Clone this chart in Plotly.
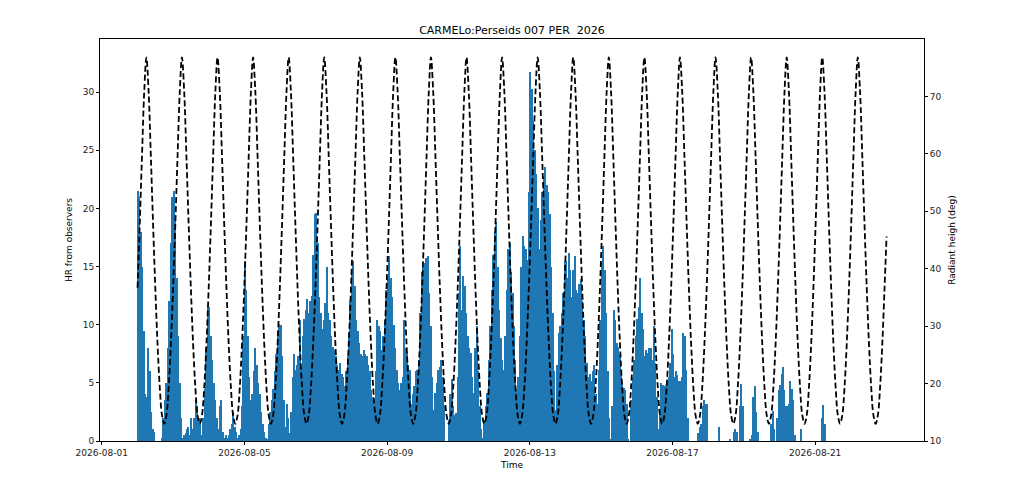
import pandas as pd
import plotly.graph_objects as go

title = "CARMELo:Perseids 007 PER\u00a0 2026"

# hourly rate, 1-hour bins, one row per day from 2026-08-02
first_day = "2026-08-02"
bin_hours = 1
hr_rows = [
    [21.5, 21.0, 18.0, 15.0, 9.5, 4.0, 3.8, 8.0, 6.0, 2.5, 1.0, 0.8,
     0.0, 0.0, 0.0, 0.0, 0.3, 2.0, 3.5, 5.0, 8.0, 12.0, 17.0, 21.0],      # 08-02
    [21.5, 19.0, 14.0, 9.0, 5.0, 2.0, 0.3, 0.5, 0.7, 1.0, 1.2, 0.5,
     2.0, 1.0, 2.0, 3.5, 3.0, 2.0, 1.5, 0.5, 2.0, 4.5, 8.0, 11.5],        # 08-03
    [11.5, 9.0, 7.0, 5.0, 3.5, 2.0, 1.0, 3.0, 3.5, 0.8, 0.3, 0.5,
     0.3, 0.5, 1.0, 1.5, 2.5, 1.2, 0.8, 0.3, 0.5, 1.0, 3.0, 9.0],         # 08-04
    [15.5, 13.0, 9.0, 5.5, 3.5, 4.0, 6.0, 8.0, 6.5, 5.0, 4.0, 2.5,
     1.5, 0.8, 0.3, 0.2, 1.5, 2.5, 3.5, 4.5, 6.0, 7.5, 9.5, 10.1],        # 08-05
    [10.0, 7.3, 3.5, 1.2, 3.2, 2.0, 0.7, 2.5, 5.5, 7.5, 6.1, 6.5,
     7.3, 10.4, 6.4, 9.0, 10.5, 11.3, 12.2, 11.0, 12.0, 12.5, 16.0, 19.5], # 08-06
    [19.6, 17.0, 12.4, 11.0, 9.6, 10.4, 11.9, 15.0, 11.0, 10.4, 9.0, 8.1,
     7.8, 7.3, 6.5, 6.1, 6.7, 5.8, 5.5, 4.7, 6.0, 7.3, 9.3, 12.0],        # 08-07
    [14.5, 15.5, 13.3, 10.4, 9.5, 8.4, 7.5, 7.3, 7.8, 7.5, 7.3, 6.5,
     6.0, 4.4, 3.8, 3.2, 6.0, 10.4, 9.9, 9.5, 7.8, 9.0, 10.4, 13.0],      # 08-08
    [14.0, 15.9, 14.0, 12.4, 10.0, 8.0, 6.1, 5.0, 4.4, 5.0, 5.5, 10.4,
     8.0, 7.6, 6.5, 6.1, 3.2, 4.0, 4.7, 6.0, 6.1, 7.0, 11.0, 14.5],       # 08-09
    [15.0, 15.3, 15.7, 15.9, 12.7, 9.9, 5.5, 2.7, 4.1, 5.0, 6.1, 6.4,
     7.0, 5.5, 3.0, 0.0, 0.0, 1.8, 4.0, 5.3, 3.0, 2.2, 2.4, 5.5],         # 08-10
    [12.7, 16.8, 11.3, 14.2, 13.3, 11.0, 9.0, 8.0, 7.6, 5.5, 4.1, 8.0,
     9.9, 6.0, 3.0, 1.0, 0.3, 1.8, 3.0, 4.1, 7.0, 9.9, 13.0, 16.0],       # 08-11
    [18.0, 18.8, 15.0, 11.3, 8.9, 7.0, 6.1, 9.0, 13.0, 16.5, 17.0, 14.5,
     12.7, 9.9, 7.0, 4.5, 5.5, 9.0, 15.0, 17.6, 16.8, 16.5, 15.6, 21.4],  # 08-12
    [31.7, 30.3, 27.5, 25.0, 23.0, 20.0, 16.5, 19.0, 21.4, 22.8, 23.6, 22.0,
     21.4, 19.5, 15.0, 11.0, 6.0, 2.7, 6.5, 9.3, 9.9, 11.0, 12.7, 15.5],  # 08-13
    [15.5, 14.0, 16.2, 14.7, 12.4, 14.7, 15.9, 13.0, 12.7, 13.5, 13.9, 12.0,
     10.4, 9.0, 6.7, 5.5, 5.8, 5.2, 6.0, 6.5, 4.0, 3.2, 6.1, 10.4],       # 08-14
    [15.3, 16.8, 14.7, 11.0, 6.0, 2.0, 0.2, 3.0, 11.3, 10.4, 8.4, 8.1,
     7.5, 6.0, 5.0, 4.6, 4.4, 3.2, 0.2, 0.0, 3.5, 5.5, 7.0, 9.0],         # 08-15
    [10.5, 11.5, 14.0, 11.0, 9.6, 7.3, 7.8, 7.6, 8.0, 8.0, 7.0, 9.9,
     6.7, 3.8, 1.0, 2.5, 5.0, 4.8, 4.7, 4.8, 5.0, 5.5, 6.7, 9.6],         # 08-16
    [7.5, 5.5, 6.0, 5.7, 5.2, 5.2, 5.5, 9.3, 9.0, 6.1, 2.0, 0.0,
     0.0, 0.0, 0.0, 0.0, 0.0, 0.7, 1.2, 1.5, 3.0, 3.5, 3.2, 3.2],         # 08-17
    [0.0, 0.0, 0.0, 0.0, 0.0, 0.0, 0.0, 1.2, 0.0, 0.0, 0.0, 0.0,
     0.0, 0.0, 0.2, 0.0, 0.0, 0.8, 1.0, 0.8, 0.0, 3.0, 4.9, 3.0],         # 08-18
    [0.0, 0.0, 0.0, 0.0, 0.1, 0.5, 3.8, 4.7, 2.5, 0.8, 0.0, 0.0,
     0.0, 0.0, 0.0, 0.0, 0.0, 0.0, 1.5, 2.6, 1.0, 0.0, 2.0, 4.4],         # 08-19
    [4.8, 5.8, 6.4, 4.4, 3.0, 3.0, 3.2, 5.2, 4.5, 3.5, 0.5, 0.0,
     0.0, 0.0, 1.0, 0.0, 0.0, 0.0, 0.0, 0.0, 0.0, 0.0, 0.0, 0.0],         # 08-20
    [0.0, 0.0, 0.0, 0.0, 2.0, 3.1, 1.5, 0.0, 0.0, 0.0, 0.0, 0.0,
     0.0, 0.0, 0.0, 0.0, 0.0, 0.0, 0.0, 0.0, 0.0, 0.0, 0.0, 0.0],         # 08-21
]

# radiant culminations (upper) and the altitude seen every 1.5 h after each one
culm_times = [
    "2026-08-01 06:04", "2026-08-02 06:00", "2026-08-03 05:56", "2026-08-04 05:52",
    "2026-08-05 05:48", "2026-08-06 05:44", "2026-08-07 05:40", "2026-08-08 05:36",
    "2026-08-09 05:32", "2026-08-10 05:28", "2026-08-11 05:24", "2026-08-12 05:20",
    "2026-08-13 05:16", "2026-08-14 05:12", "2026-08-15 05:08", "2026-08-16 05:04",
    "2026-08-17 05:00", "2026-08-18 04:56", "2026-08-19 04:52", "2026-08-20 04:48",
    "2026-08-21 04:44", "2026-08-22 04:40",
]
alt_profile = [76.8, 70.9, 59.7, 47.9, 36.7, 27.0, 19.4, 14.5,
               13.0, 14.5, 19.4, 27.0, 36.7, 47.9, 59.7, 70.9]
curve_start = "2026-08-02 00:00"
curve_end = "2026-08-23 00:00"
end_alt = 45.6

date_ticks = ["2026-08-01", "2026-08-05", "2026-08-09", "2026-08-13", "2026-08-17", "2026-08-21"]

# bars
t0 = pd.Timestamp(first_day)
bar_x, bar_y = [], []
for d, row in enumerate(hr_rows):
    for i, v in enumerate(row):
        bar_x.append(t0 + pd.Timedelta(days=d, hours=i * bin_hours + bin_hours / 2))
        bar_y.append(v)

# radiant height curve
start, end = pd.Timestamp(curve_start), pd.Timestamp(curve_end)
rad_t, rad_alt = [], []
for c in pd.to_datetime(culm_times):
    for j, a in enumerate(alt_profile):
        t = c + pd.Timedelta(hours=1.5 * j)
        if start <= t <= end:
            rad_t.append(t)
            rad_alt.append(a)
rad_t.append(end)
rad_alt.append(end_alt)

fig = go.Figure()
fig.add_trace(go.Bar(
    x=bar_x, y=bar_y,
    width=bin_hours * 3600 * 1000,
    marker=dict(color='#1f77b4', line=dict(width=0)),
    yaxis='y',
))
fig.add_trace(go.Scatter(
    x=rad_t, y=rad_alt,
    mode='lines',
    line=dict(color='black', width=1.8, dash='6px,3px', shape='spline', smoothing=1),
    yaxis='y2',
))

axis_common = dict(
    showline=True, linecolor='black', linewidth=1,
    ticks='outside', ticklen=3, tickcolor='black',
    showgrid=False, zeroline=False,
    tickfont=dict(size=9, color='#222'),
)

# the page body adds an 8px margin, so the figure is 16px smaller than the window
fig.update_layout(
    width=1008, height=487,
    margin=dict(l=91.5, r=91.7, t=31.3, b=54),
    plot_bgcolor='white', paper_bgcolor='white',
    font=dict(family='DejaVu Sans', size=9, color='black'),
    title=dict(text=title, x=0.5, xanchor='center', y=1 - 22 / 487, yanchor='middle',
               font=dict(size=11, color='black')),
    bargap=0,
    showlegend=False,
    xaxis=dict(
        type='date',
        range=["2026-07-31 22:48", "2026-08-24 01:12"],
        tickvals=date_ticks,
        tickformat='%Y-%m-%d',
        mirror=True,
        title=dict(text='Time', standoff=4, font=dict(size=9)),
        **axis_common,
    ),
    yaxis=dict(
        range=[0, 34.57],
        tickvals=[0, 5, 10, 15, 20, 25, 30],
        mirror=True,
        title=dict(text='HR from observers', standoff=8, font=dict(size=9)),
        **axis_common,
    ),
    yaxis2=dict(
        overlaying='y', side='right',
        range=[10, 80],
        tickvals=[10, 20, 30, 40, 50, 60, 70],
        title=dict(text='Radiant heigh (deg)', standoff=8, font=dict(size=9)),
        **axis_common,
    ),
)

fig.write_html("out.html")
